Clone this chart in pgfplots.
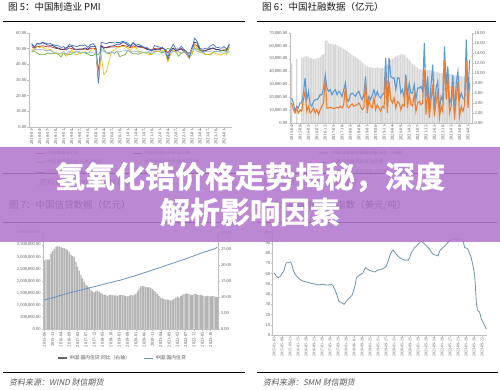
\documentclass[border=0pt]{standalone}
\usepackage{fontspec}
\setmainfont{Liberation Serif}
\newfontfamily\cjk{Noto Sans CJK SC}
\newfontfamily\cjkbold[FakeBold=1.2]{Noto Sans CJK SC Bold}
\newfontfamily\cjksl[FakeSlant=0.2]{Noto Sans CJK SC}
\usepackage{pgfplots}
\usepackage{pgfplotstable}
\pgfplotsset{compat=1.18}

\definecolor{tickgray}{HTML}{595959}
\definecolor{axgray}{HTML}{BFBFBF}
\definecolor{titlec}{HTML}{1A1A1A}
\definecolor{banner}{RGB}{178,120,205}
\definecolor{pmiRed}{HTML}{C0392B}
\definecolor{prodBlue}{HTML}{4472C4}
\definecolor{newNavy}{HTML}{2E3A87}
\definecolor{expY}{HTML}{E8C21A}
\definecolor{invG}{HTML}{70AD47}
\definecolor{rawLB}{HTML}{9DB9D6}
\definecolor{sfBlue}{HTML}{5B9BD5}
\definecolor{sfOrange}{HTML}{ED7D31}
\definecolor{barLight}{HTML}{D6D6D6}
\definecolor{barMid}{HTML}{B4B4B4}
\definecolor{credLine}{HTML}{6A93BA}
\definecolor{idxLine}{HTML}{7393A7}

\pgfplotsset{
 base/.style={
  scale only axis,
  axis line style={draw=axgray, line width=0.5pt},
  tick style={draw=axgray, line width=0.4pt},
  tick align=outside,
  major tick length=1.5pt,
  ticklabel style={font=\fontsize{4.5}{5}\selectfont, text=tickgray, inner sep=1pt},
  /pgf/number format/assume math mode=true,
  scaled ticks=false,
  legend cell align=left,
  legend image code/.code={\draw[##1,line cap=butt] (0pt,0pt) -- (9pt,0pt);},
  legend style={draw=none, fill=none, font=\cjk\fontsize{4.5}{5}\selectfont, text=tickgray, inner sep=0pt, row sep=0.3pt},
 },
 twodec/.style={yticklabel style={/pgf/number format/.cd, fixed, fixed zerofill, precision=2, 1000 sep={,}}},
 rotx/.style={xticklabel style={rotate=90, anchor=east}},
}

% ---------- Panel 1: PMI (2018-01 .. 2024-03)
\pgfplotstableread{
m pmi prod neword export inv raw
0 51.3 53.4 52.6 49.5 48.2 48.8
1 50.3 50.7 51.0 49.0 48.4 49.3
2 51.5 53.1 53.3 51.3 47.3 49.6
3 51.4 53.1 52.9 50.7 46.3 49.5
4 51.9 54.1 53.8 51.2 46.5 49.6
5 51.5 53.6 53.2 49.8 46.3 48.8
6 51.2 53.0 52.3 49.8 47.3 48.9
7 51.3 53.3 52.2 49.4 46.7 48.7
8 50.8 52.5 52.0 48.0 47.1 47.8
9 50.2 52.0 50.8 46.9 47.0 47.6
10 50.0 51.9 50.4 47.0 46.4 47.1
11 49.4 50.8 49.7 46.6 44.8 47.1
12 49.5 51.3 49.6 46.9 47.1 48.1
13 49.2 49.5 50.6 45.2 46.4 46.3
14 50.5 52.7 51.6 47.1 46.1 48.4
15 50.1 52.1 51.4 49.2 46.5 47.2
16 49.4 51.7 49.8 46.5 48.1 47.4
17 49.4 51.3 49.6 46.3 48.1 48.2
18 49.7 52.1 49.8 46.9 47.1 48.0
19 49.5 51.9 49.7 47.2 47.8 47.5
20 49.8 52.3 50.5 48.2 47.1 47.6
21 49.3 50.8 49.6 47.0 46.7 47.4
22 50.2 52.6 51.3 48.8 45.6 47.8
23 50.2 53.2 51.2 50.3 45.6 47.2
24 50.0 51.3 51.4 48.7 47.0 47.1
25 35.7 27.8 29.3 28.7 46.1 32.9
26 52.0 54.1 52.0 46.4 49.1 49.0
27 50.8 53.7 50.2 33.5 49.3 48.2
28 50.6 53.2 50.9 35.3 47.3 47.3
29 50.9 53.9 51.4 42.6 46.8 47.6
30 51.1 54.0 51.7 48.4 47.6 47.9
31 51.0 53.5 52.0 49.1 47.1 47.3
32 51.5 54.0 52.8 50.8 48.4 48.5
33 51.4 53.9 52.8 51.0 44.9 48.0
34 52.1 54.7 53.9 51.5 45.7 48.6
35 51.9 54.2 53.6 51.3 46.2 48.6
36 51.3 53.5 52.3 50.2 49.0 49.0
37 50.6 51.9 51.5 48.8 48.0 47.7
38 51.9 53.9 53.6 51.2 46.7 48.4
39 51.1 52.2 52.0 50.4 46.8 48.3
40 51.0 52.7 51.3 48.3 46.5 47.7
41 50.9 51.9 51.5 48.1 47.1 48.0
42 50.4 51.0 50.9 47.7 47.6 47.7
43 50.1 50.9 49.6 46.7 47.7 47.7
44 49.6 49.5 49.3 46.2 47.2 48.2
45 49.2 48.4 48.8 46.6 46.3 47.0
46 50.1 52.0 49.4 48.5 48.5 47.7
47 50.3 51.4 49.7 48.1 48.5 49.2
48 50.1 50.9 49.3 48.4 48.0 49.1
49 50.2 50.4 50.7 49.0 47.3 48.1
50 49.5 49.5 48.8 47.2 48.9 47.3
51 47.4 44.4 42.6 41.6 50.3 46.5
52 49.6 49.7 48.2 46.2 49.3 47.9
53 50.2 52.8 50.4 49.5 48.6 48.1
54 49.0 49.8 48.5 47.4 48.0 47.9
55 49.4 49.8 49.2 48.1 45.2 48.0
56 50.1 51.5 49.8 47.0 47.3 47.6
57 49.2 49.6 48.1 47.6 48.0 47.7
58 48.0 47.8 46.4 46.7 47.4 46.7
59 47.0 44.6 43.9 44.2 46.6 46.5
60 50.1 49.8 50.9 46.1 47.2 49.6
61 52.6 56.7 54.1 52.4 50.6 49.8
62 51.9 54.6 53.6 50.4 49.5 48.3
63 49.2 50.2 48.8 47.6 49.4 47.9
64 48.8 49.6 48.3 47.2 48.9 47.6
65 49.0 50.3 48.6 46.4 46.2 48.2
66 49.3 50.2 49.5 46.3 46.3 48.1
67 49.7 51.9 50.2 46.7 46.1 48.4
68 50.2 52.7 50.5 47.8 47.9 48.5
69 49.5 50.9 49.5 46.8 48.5 48.2
70 49.4 50.7 49.4 46.3 48.2 48.0
71 49.0 50.2 48.7 45.8 48.6 47.7
72 49.2 51.3 49.0 47.2 49.4 48.1
73 49.1 49.8 49.0 46.3 47.9 47.4
74 50.8 52.2 53.0 51.3 48.1 48.1
}\pmitable

% ---------- Panel 2: social financing (2015-04 .. 2024-03)
\pgfplotstableread{
i blue orange
1 19400 15600
2 15600 10400
3 9100 7800
4 13000 11700
5 11700 7800
6 15600 10400
7 15600 9100
8 23300 18200
9 35000 24600
10 18200 9100
11 24600 13000
12 14300 7800
13 13000 9100
14 16900 11700
15 18200 7800
16 18200 10400
17 19400 6500
18 22000 10400
19 22000 13000
20 27200 15600
21 37600 35000
22 27200 11700
23 24600 11700
24 25900 12200
25 22000 11700
26 24600 11200
27 25900 11700
28 22000 12200
29 24600 11700
30 23300 13000
31 20700 11700
32 25900 14300
33 31100 28500
34 18200 13000
35 16900 11700
36 22000 13700
37 23300 14800
38 22000 13000
39 20700 13700
40 23300 14300
41 24600 15600
42 20700 13000
43 18200 10400
44 22000 11700
45 36300 32400
46 14300 7800
47 20700 18200
48 18200 13000
49 22000 11700
50 25900 19400
51 20700 10400
52 24600 14300
53 20700 11700
54 19400 9100
55 22000 13000
56 23300 11700
57 50600 38900
58 11700 7800
59 50600 32400
60 36300 18200
61 35000 15600
62 35000 19400
63 25900 11700
64 35000 16900
65 35000 15600
66 23300 10400
67 25900 14300
68 19400 13000
69 37600 35000
70 22000 11700
71 31100 23300
72 23300 14300
73 23300 13000
74 29800 22000
75 18200 9100
76 27200 15600
77 27200 16900
78 28500 14300
79 24600 15600
80 62200 41500
81 19400 6500
82 36300 25900
83 9100 3900
84 29800 18200
85 45400 29800
86 9100 5200
87 27200 15600
88 32400 24600
89 10400 3900
90 20700 13000
91 16900 9100
92 59600 49300
93 29800 18200
94 44100 36300
95 14300 7800
96 19400 13000
97 37600 28500
98 7800 2600
99 31100 19400
100 40200 32400
101 18200 5200
102 23300 13000
103 19400 9100
104 18200 14300
105 64800 48000
106 22000 11700
107 49300 31100
}\sftable

\pgfplotstableread{
i v
1 11.9
4 12.8
7 13.0
8 13.2
9 13.3
10 13.3
11 13.2
12 13.0
13 12.9
14 12.8
15 12.8
16 13.0
17 13.0
18 13.2
19 13.6
20 13.8
21 16.4
22 16.5
23 16.0
24 15.8
25 15.8
26 15.6
27 15.7
28 15.5
29 15.3
30 15.2
31 15.0
32 14.8
33 14.6
34 14.4
35 14.1
36 13.9
37 13.6
38 13.4
39 13.2
40 12.9
41 12.6
42 12.4
43 12.1
44 11.8
45 11.5
46 11.3
47 11.2
48 11.1
49 11.1
50 11.0
51 11.0
52 11.1
53 11.0
54 10.9
55 11.0
56 11.0
57 11.5
58 11.9
59 12.3
60 12.6
61 12.8
62 13.1
63 13.3
64 13.5
65 13.6
66 13.7
67 13.7
68 13.6
69 13.3
70 13.0
71 12.6
72 12.2
73 11.8
74 11.5
75 11.2
76 11.0
77 10.8
78 10.7
79 10.6
80 10.5
81 10.5
82 10.6
83 10.6
84 10.5
85 10.3
86 10.3
87 10.2
88 10.2
89 10.0
90 10.0
91 10.0
92 10.0
93 9.9
94 9.9
95 9.8
96 9.7
97 9.6
98 9.5
99 9.5
100 9.4
101 9.4
102 9.3
103 9.3
104 9.2
105 9.2
106 9.2
107 9.2
}\sfbars

% ---------- Panel 3: credit (2015-06 .. 2024-02)
\pgfplotstableread{
i v
0 21.4
1 21.6
2 21.6
3 21.7
4 23.5
5 24.3
6 25.0
7 25.6
8 25.8
9 25.7
10 25.5
11 25.3
12 25.2
13 24.9
14 24.6
15 24.0
16 23.2
17 22.8
18 22.5
19 21.0
20 19.5
21 18.2
22 16.9
23 15.8
24 14.8
25 13.9
26 13.4
27 13.0
28 12.2
29 11.7
30 11.5
31 11.9
32 12.0
33 11.6
34 11.3
35 11.0
36 10.6
37 10.8
38 10.4
39 10.6
40 10.7
41 10.6
42 10.5
43 10.5
44 10.4
45 10.6
46 10.7
47 10.6
48 10.5
49 10.3
50 10.2
51 10.4
52 10.6
53 10.5
54 10.7
55 11.0
56 11.8
57 12.6
58 13.3
59 13.4
60 13.3
61 13.2
62 13.0
63 13.1
64 12.8
65 12.5
66 12.0
67 11.6
68 11.0
69 10.4
70 9.8
71 9.6
72 9.4
73 9.2
74 9.3
75 9.1
76 9.0
77 9.2
78 9.4
79 9.8
80 10.2
81 9.8
82 10.3
83 10.6
84 10.9
85 11.1
86 11.1
87 11.0
88 10.8
89 10.6
90 10.9
91 11.0
92 10.8
93 10.6
94 10.7
95 10.5
96 10.3
97 10.2
98 10.4
99 10.3
100 10.2
101 10.4
102 10.3
103 10.1
104 10.0
}\credbars

\begin{document}
\begin{tikzpicture}
\useasboundingbox (0pt,0pt) rectangle (500pt,389pt);
\fill[white] (0pt,0pt) rectangle (500pt,389pt);

% ---------------- titles, rules, sources
\node[anchor=base west, inner sep=0pt, text=titlec, font=\cjk\fontsize{9.5}{11}\selectfont] at (8pt,378pt) {图 5：中国制造业 PMI};
\node[anchor=base west, inner sep=0pt, text=titlec, font=\cjk\fontsize{9.5}{11}\selectfont] at (262pt,378pt) {图 6：中国社融数据（亿元）};
\node[anchor=base west, inner sep=0pt, text=titlec, font=\cjk\fontsize{9.5}{11}\selectfont] at (9pt,180.5pt) {图 7：中国信贷数据（亿元）};
\node[anchor=base west, inner sep=0pt, text=titlec, font=\cjk\fontsize{9.5}{11}\selectfont] at (262pt,180.5pt) {图 8：碳酸锂价格指数（美元/吨）};
\draw[line width=1pt] (3pt,367.3pt) -- (245pt,367.3pt);
\draw[line width=1pt] (257pt,367.3pt) -- (496pt,367.3pt);
\draw[line width=1pt] (3pt,215.7pt) -- (245pt,215.7pt);
\draw[line width=1pt] (257pt,215.7pt) -- (497pt,215.7pt);
\draw[line width=1pt] (3pt,167pt) -- (245pt,167pt);
\draw[line width=1pt] (257pt,167pt) -- (497pt,167pt);
\draw[line width=1.3pt] (3pt,16.3pt) -- (245pt,16.3pt);
\draw[line width=1.3pt] (257pt,16.3pt) -- (498pt,16.3pt);
\node[anchor=base west, inner sep=0pt, text=tickgray, font=\cjksl\fontsize{8}{9}\selectfont] at (38pt,204pt) {资料来源：WIND 财信期货};
\node[anchor=base west, inner sep=0pt, text=tickgray, font=\cjksl\fontsize{8}{9}\selectfont] at (262pt,204pt) {资料来源：WIND 财信期货};
\node[anchor=base west, inner sep=0pt, text=tickgray, font=\cjksl\fontsize{8}{9}\selectfont] at (9pt,4pt) {资料来源：WIND 财信期货};
\node[anchor=base west, inner sep=0pt, text=tickgray, font=\cjksl\fontsize{8}{9}\selectfont] at (263pt,4pt) {资料来源：SMM 财信期货};

% ---------------- Panel 1
\begin{axis}[base, twodec, rotx,
  at={(29pt,262pt)}, anchor=south west, width=203pt, height=94pt,
  axis x line*=bottom, axis y line*=left,
  xmin=-1, xmax=75, ymin=0, ymax=60,
  ytick={0,10,20,30,40,50,60},
  xtick={0,3,...,72},
  xticklabels={2018-01,2018-04,2018-07,2018-10,2019-01,2019-04,2019-07,2019-10,2020-01,2020-04,2020-07,2020-10,2021-01,2021-04,2021-07,2021-10,2022-01,2022-04,2022-07,2022-10,2023-01,2023-04,2023-07,2023-10,2024-01},
  legend columns=2,
  legend style={at={(0.03,-0.225)}, anchor=north west, /tikz/every even column/.append style={column sep=28pt}},
]
\addplot[pmiRed, line width=0.7pt] table[x=m,y=pmi] {\pmitable};
\addlegendentry{中国:制造业PMI}
\addplot[newNavy, line width=0.7pt] table[x=m,y=neword] {\pmitable};
\addlegendentry{中国:制造业PMI:新订单}
\addplot[invG, line width=0.7pt] table[x=m,y=inv] {\pmitable};
\addlegendentry{中国:制造业PMI:产成品库存}
\addplot[expY, line width=0.7pt] table[x=m,y=export] {\pmitable};
\addlegendentry{中国:制造业PMI:新出口订单}
\addplot[prodBlue, line width=0.7pt] table[x=m,y=prod] {\pmitable};
\addlegendentry{中国:制造业PMI:生产}
\addplot[rawLB, line width=0.7pt] table[x=m,y=raw] {\pmitable};
\addlegendentry{中国:制造业PMI:原材料库存}
\end{axis}

% ---------------- Panel 2 (bars, right axis)
\begin{axis}[base, twodec,
  at={(290pt,266pt)}, anchor=south west, width=182pt, height=90pt,
  axis y line*=right, axis x line=none,
  xmin=0, xmax=108.4, ymin=0, ymax=18,
  ytick={0,2,4,6,8,10,12,14,16,18},
  ybar, bar width=1.2pt,
]
\addplot[fill=barLight, draw=none] table[x=i,y=v] {\sfbars};
\end{axis}
% ---------------- Panel 2 (lines, left axis)
\begin{axis}[base, twodec, rotx,
  at={(290pt,266pt)}, anchor=south west, width=182pt, height=90pt,
  axis x line*=bottom, axis y line*=left,
  xmin=0, xmax=108.4, ymin=0, ymax=70000,
  ytick={0,10000,20000,30000,40000,50000,60000,70000},
  xtick={1,6,...,106},
  xticklabels={2015-04,2015-09,2016-02,2016-07,2016-12,2017-05,2017-10,2018-03,2018-08,2019-01,2019-06,2019-11,2020-04,2020-09,2021-02,2021-07,2021-12,2022-05,2022-10,2023-03,2023-08,2024-01},
  legend style={at={(0.154,-0.28)}, anchor=north west},
]
\addlegendimage{barLight!70!gray, line width=2.2pt}
\addlegendentry{中国:社会融资规模存量:同比（右轴）}
\addplot[sfBlue, line width=1.1pt] table[x=i,y=blue] {\sftable};
\addlegendentry{中国:社会融资规模:当月值}
\addplot[sfOrange, line width=1.1pt] table[x=i,y=orange] {\sftable};
\addlegendentry{中国:新增人民币贷款:当月值}
\end{axis}

% ---------------- Panel 3 (bars, right axis)
\begin{axis}[base, twodec,
  at={(43.3pt,59.7pt)}, anchor=south west, width=175pt, height=96.6pt,
  axis y line*=right, axis x line=none,
  xmin=-0.6, xmax=104.6, ymin=0, ymax=30,
  ytick={0,5,10,15,20,25,30},
  ybar, bar width=1.25pt,
]
\addplot[fill=barMid, draw=none] table[x=i,y=v] {\credbars};
\end{axis}
% ---------------- Panel 3 (line, left axis)
\begin{axis}[base, twodec, rotx,
  at={(43.3pt,59.7pt)}, anchor=south west, width=175pt, height=96.6pt,
  axis x line*=bottom, axis y line*=left,
  xmin=-0.6, xmax=104.6, ymin=0, ymax=4000000,
  ytick={0,500000,1000000,1500000,2000000,2500000,3000000,3500000,4000000},
  xtick={0,5,...,100},
  xticklabels={2015-06,2015-11,2016-04,2016-09,2017-02,2017-07,2017-12,2018-05,2018-10,2019-03,2019-08,2020-01,2020-06,2020-11,2021-04,2021-09,2022-02,2022-07,2022-12,2023-05,2023-10},
  legend columns=2,
  legend style={at={(0.075,-0.25)}, anchor=north west, font=\cjk\fontsize{4.8}{5.5}\selectfont, /tikz/every even column/.append style={column sep=12pt}},
]
\addlegendimage{gray!80!black, line width=2pt}
\addlegendentry{中国:国内信贷:同比（右轴）}
\addplot[credLine, line width=0.8pt] coordinates {
(0,1213000) (6,1325000) (14,1490000) (22,1627000) (30,1764000) (38,1905000)
(46,2041000) (54,2207000) (62,2385000) (70,2567000) (78,2758000) (86,2940000)
(94,3147000) (102,3325000) (104,3395000)};
\addlegendentry{中国:国内信贷}
\end{axis}

% ---------------- Panel 4
\begin{axis}[base, rotx,
  at={(272.7pt,54pt)}, anchor=south west, width=214pt, height=102.3pt,
  axis x line*=bottom, axis y line*=left,
  xmin=14, xmax=656, ymin=0, ymax=100,
  ytick={0,10,...,100},
  xtick={18,42,...,642},
  xticklabel style={font=\fontsize{4}{4.5}\selectfont},
  xticklabels={2015-01-02,2015-05-08,2015-09-11,2016-01-15,2016-05-20,2016-09-23,2017-01-20,2017-05-26,2017-09-29,2018-01-26,2018-06-01,2018-09-28,2019-01-25,2019-05-31,2019-09-27,2020-01-31,2020-05-29,2020-09-25,2021-01-29,2021-05-28,2021-09-24,2022-01-28,2022-05-27,2022-09-23,2023-01-20,2023-05-26,2023-09-22},
]
\addplot[idxLine, line width=0.8pt] coordinates {
(18,60.9) (24,58) (30,56.0) (35,57) (40,59) (48,63) (52,68) (55,70.7) (62,70.7) (68,71.4)
(72,68) (75,64.2) (80,60) (85,57.7) (90,56) (95,54.4) (102,53) (110,52.2) (120,51.5) (130,50.5)
(140,49.8) (150,48.9) (158,49.3) (165,49.6) (172,49) (180,48.9) (190,49.6) (195,48) (200,44.6) (205,40.7)
(208,38) (212,33.2) (216,32.5) (220,31.6) (224,31) (228,30.0) (232,31.5) (235,33.2) (240,35) (245,36.5)
(252,38.8) (258,44.6) (262,50) (265,56.0) (270,57.5) (275,58.7) (280,59.5) (285,61.0) (292,65.8) (296,65)
(300,64.2) (305,63) (310,62.6) (315,62) (320,61.6) (325,62.5) (330,63.6) (338,64) (345,64.9) (350,66)
(355,67.5) (360,72) (365,77.3) (370,81) (375,83.2) (380,81) (385,78.9) (390,77) (395,75.7) (400,74.5)
(405,74.0) (410,73) (415,73.4) (420,73) (425,75.7) (430,80.6) (435,83) (440,85.5) (445,87) (450,88.7)
(455,90.5) (458,92.0) (462,91) (465,90.4) (470,89) (475,87.1) (480,85.5) (485,83.9) (490,81) (495,78.9)
(500,78.3) (505,78.0) (510,77.3) (515,82.2) (520,84) (525,85.5) (530,87) (535,88.7) (540,90.5) (545,92.0)
(550,93) (555,93.6) (560,94) (565,94.3) (570,93.8) (575,93.6) (580,93.5) (585,92.0) (588,88) (590,85.5)
(595,85) (600,83.9) (604,80) (608,77.3) (612,72) (615,67.5) (618,62) (620,57.7) (622,48) (625,31.6)
(628,25) (630,23.5) (633,23) (635,21.8) (638,18) (640,15.3) (644,13) (648,10.4) (652,8) (655,5.5)};
\end{axis}

% ---------------- Banner
\fill[banner, fill opacity=0.88] (0pt,147pt) rectangle (500pt,242pt);
\node[text=white, inner sep=0pt, font=\cjkbold\fontsize{30}{32}\selectfont] at (250pt,212pt) {氢氧化锆价格走势揭秘，深度};
\node[text=white, inner sep=0pt, font=\cjkbold\fontsize{30}{32}\selectfont] at (250pt,177pt) {解析影响因素};
\end{tikzpicture}
\end{document}
